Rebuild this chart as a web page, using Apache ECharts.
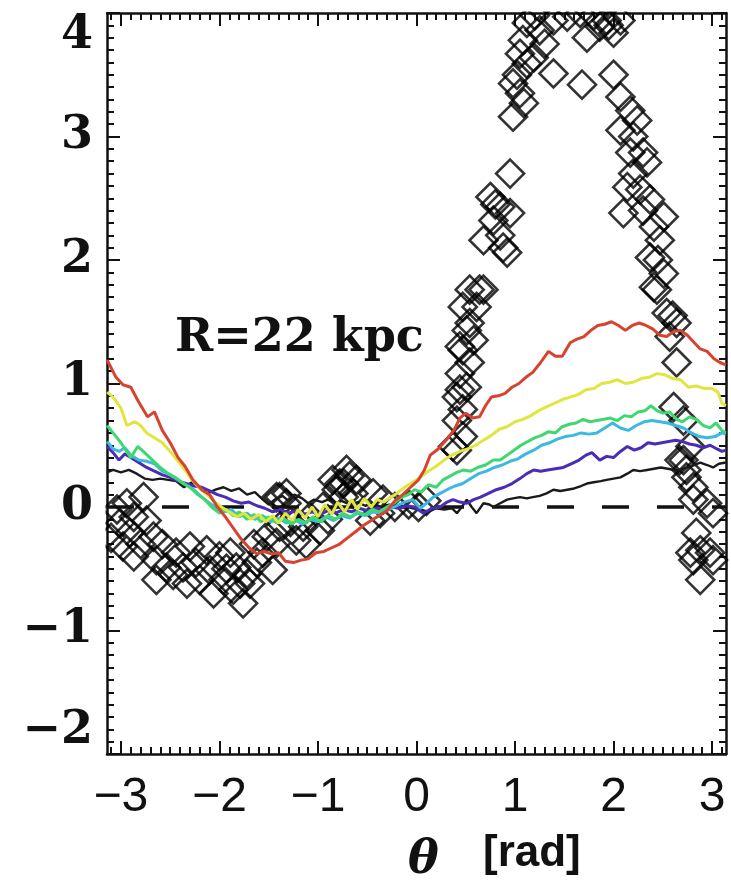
<!DOCTYPE html>
<html>
<head>
<meta charset="utf-8">
<script src="https://cdn.jsdelivr.net/npm/echarts@6/dist/echarts.min.js"></script>
<style>
html,body{margin:0;padding:0;background:#fff;}
#chart{width:731px;height:893px;}
</style>
</head>
<body>
<div id="chart"></div>
<script>
// ---------- data ----------
const xTickLabels = [-3, -2, -1, 0, 1, 2, 3];
const yTickLabels = [-2, -1, 0, 1, 2, 3, 4];
const panelLabel = 'R=22 kpc';
const xTitle = 'θ';
const xUnit = '[rad]';

const diamonds = [
  [-3.04,-0.02],[-2.94,0.03],[-3.01,-0.13],[-2.87,-0.08],[-2.77,0.08],[-2.74,-0.11],[-2.98,-0.32],[-2.87,-0.4],
  [-2.91,-0.21],[-2.67,-0.24],[-2.64,-0.43],[-2.54,-0.49],[-2.64,-0.59],[-2.44,-0.37],[-2.37,-0.49],[-2.3,-0.32],
  [-2.24,-0.45],[-2.2,-0.59],[-2.13,-0.35],[-2.1,-0.51],[-2.0,-0.4],[-1.96,-0.59],[-1.89,-0.37],[-1.86,-0.67],
  [-1.76,-0.78],[-1.72,-0.54],[-1.83,-0.49],[-1.69,-0.62],[-1.62,-0.45],[-1.56,-0.37],[-1.46,-0.51],[-1.52,-0.24],
  [-1.42,-0.29],[-1.39,-0.16],[-1.42,0.08],[-1.32,0.03],[-1.22,-0.27],[-1.15,-0.16],[-1.08,-0.08],[-0.98,-0.19],
  [-0.95,0.0],[-0.81,0.14],[-0.74,0.19],[-0.64,0.11],[-0.47,-0.11],[-0.37,-0.05],[-0.85,0.22],[-0.71,0.3],
  [-0.78,0.19],[-0.61,0.22],[-0.74,0.08],[-1.39,0.08],[-1.32,0.11],[-0.44,0.11],[-0.34,0.06],
  [-3.1,-0.25],[-2.8,-0.3],[-2.58,-0.3],[-2.47,-0.55],[-2.33,-0.62],[-2.06,-0.7],[-1.93,-0.5],[-1.79,-0.62],
  [-1.65,-0.3],[-1.28,-0.12],[-1.12,-0.3],[-0.9,-0.1],[-0.68,0.25],[-0.22,0.0],[-0.08,0.02],[0.02,0.0],[0.1,0.05],
  [0.37,0.49],[0.41,0.46],[0.47,0.57],[0.41,0.7],[0.47,0.79],[0.41,0.89],[0.44,0.95],[0.51,0.97],[0.44,1.08],
  [0.54,1.17],[0.47,1.27],[0.44,1.3],[0.58,1.35],[0.51,1.43],[0.54,1.49],[0.61,1.62],[0.47,1.62],[0.68,1.76],[0.54,1.76],
  [0.64,1.76],[0.75,2.51],[0.85,2.43],[0.95,2.38],[0.78,2.32],[0.68,2.16],[0.88,2.1],[0.92,2.06],[0.95,2.7],
  [0.98,3.16],[1.09,3.27],[1.05,3.35],[0.98,3.43],[1.05,3.67],[1.12,3.59],[1.19,3.64],[1.12,3.92],[1.25,3.86],
  [1.39,3.94],[1.53,3.97],[1.66,4.0],[1.73,3.8],[1.86,3.89],[1.93,3.94],[2.0,3.84],[2.07,3.94],[1.39,3.51],
  [1.68,3.42],[2.0,3.5],[1.02,3.5],[1.08,3.78],[1.2,3.98],[1.3,3.75],[1.8,3.98],[1.95,3.9],[0.85,2.2],[0.8,2.45],
  [2.07,3.32],[2.17,3.21],[2.24,3.13],[2.07,3.05],[2.2,3.0],[2.3,2.87],[2.17,2.87],[2.34,2.79],[2.14,2.59],
  [2.27,2.57],[2.1,2.38],[2.37,2.49],[2.51,2.35],[2.41,2.27],[2.47,2.16],[2.37,2.02],[2.51,1.89],[2.41,1.78],
  [2.44,1.76],[2.54,1.57],[2.64,1.49],[2.57,1.38],[2.64,1.17],[2.61,0.81],[2.71,0.7],[2.78,0.49],[2.71,0.38],
  [2.74,0.3],[2.81,0.16],[2.67,0.38],[2.74,0.24],[2.81,0.06],[2.95,0.03],[3.01,-0.05],[2.84,-0.21],[2.88,-0.35],
  [2.98,-0.37],[2.81,-0.43],[3.01,-0.43],[2.88,-0.59],[2.78,-0.37],[2.2,2.7],[2.3,2.4],[2.45,2.0],[2.6,1.55]
];

const redLine = [[-3.14,1.19],[-3.05,1.05],[-2.98,0.99],[-2.9,0.97],[-2.82,0.85],[-2.73,0.73],[-2.66,0.77],[-2.58,0.62],
  [-2.5,0.52],[-2.42,0.4],[-2.35,0.33],[-2.27,0.22],[-2.18,0.14],[-2.1,0.1],[-2.02,0.0],[-1.94,-0.08],[-1.86,-0.17],
  [-1.78,-0.26],[-1.7,-0.33],[-1.62,-0.38],[-1.55,-0.36],[-1.47,-0.38],[-1.4,-0.37],[-1.33,-0.44],[-1.25,-0.45],
  [-1.17,-0.43],[-1.1,-0.42],[-1.02,-0.37],[-0.94,-0.36],[-0.86,-0.33],[-0.78,-0.3],[-0.7,-0.25],[-0.62,-0.2],
  [-0.54,-0.15],[-0.46,-0.11],[-0.38,-0.07],[-0.3,-0.03],[-0.22,0.05],[-0.14,0.1],[-0.06,0.16],[0.02,0.22],[0.08,0.3],
  [0.14,0.42],[0.22,0.47],[0.3,0.54],[0.38,0.62],[0.44,0.72],[0.5,0.76],[0.57,0.72],[0.64,0.73],[0.7,0.82],[0.76,0.89],
  [0.83,0.9],[0.9,0.92],[0.97,0.97],[1.04,1.0],[1.11,1.05],[1.18,1.09],[1.26,1.17],[1.34,1.26],[1.41,1.22],[1.48,1.22],
  [1.56,1.33],[1.63,1.36],[1.7,1.38],[1.77,1.43],[1.84,1.47],[1.91,1.48],[1.98,1.5],[2.05,1.47],[2.12,1.43],[2.19,1.47],
  [2.26,1.49],[2.33,1.47],[2.4,1.44],[2.47,1.39],[2.54,1.38],[2.61,1.42],[2.68,1.43],[2.75,1.39],[2.82,1.33],[2.88,1.28],
  [2.95,1.26],[3.02,1.2],[3.08,1.17],[3.14,1.15]];

const yellowLine = [[-3.14,0.93],[-3.08,0.89],[-3.0,0.8],[-2.94,0.66],[-2.86,0.69],[-2.8,0.66],[-2.74,0.6],[-2.66,0.56],
  [-2.58,0.52],[-2.5,0.45],[-2.43,0.38],[-2.35,0.3],[-2.28,0.22],[-2.2,0.15],[-2.14,0.11],[-2.06,0.05],[-1.98,0.0],
  [-1.9,-0.04],[-1.82,-0.08],[-1.75,-0.05],[-1.68,-0.1],[-1.6,-0.06],[-1.53,-0.12],[-1.46,-0.07],[-1.4,-0.13],
  [-1.33,-0.05],[-1.26,-0.11],[-1.2,-0.02],[-1.13,-0.09],[-1.06,0.0],[-1.0,-0.08],[-0.93,0.02],[-0.86,-0.06],
  [-0.8,0.04],[-0.73,-0.04],[-0.66,0.06],[-0.6,-0.02],[-0.53,0.07],[-0.46,0.0],[-0.4,0.06],[-0.33,0.04],[-0.26,0.08],
  [-0.2,0.11],[-0.12,0.16],[-0.04,0.2],[0.04,0.24],[0.12,0.29],[0.2,0.33],[0.28,0.38],[0.36,0.42],[0.44,0.45],
  [0.52,0.47],[0.6,0.5],[0.68,0.54],[0.76,0.58],[0.84,0.63],[0.92,0.65],[1.0,0.69],[1.08,0.71],[1.16,0.74],[1.24,0.78],
  [1.32,0.81],[1.4,0.84],[1.48,0.87],[1.56,0.89],[1.64,0.91],[1.72,0.95],[1.8,0.96],[1.88,1.0],[1.96,1.01],[2.04,1.03],
  [2.12,1.0],[2.2,1.01],[2.28,1.04],[2.36,1.05],[2.44,1.08],[2.52,1.07],[2.6,1.04],[2.68,1.03],[2.76,0.97],[2.84,0.98],
  [2.92,0.96],[3.0,0.96],[3.06,0.93],[3.1,0.84],[3.14,0.82]];

const greenLine = [[-3.14,0.66],[-3.08,0.6],[-3.0,0.52],[-2.9,0.4],[-2.83,0.49],[-2.76,0.44],[-2.68,0.38],[-2.6,0.32],
  [-2.52,0.27],[-2.45,0.24],[-2.37,0.19],[-2.3,0.16],[-2.22,0.1],[-2.15,0.06],[-2.08,0.0],[-2.0,-0.05],[-1.93,-0.02],
  [-1.86,-0.07],[-1.8,-0.04],[-1.72,-0.1],[-1.65,-0.06],[-1.58,-0.12],[-1.5,-0.08],[-1.42,-0.13],[-1.35,-0.09],
  [-1.27,-0.14],[-1.2,-0.1],[-1.12,-0.13],[-1.05,-0.08],[-0.97,-0.12],[-0.9,-0.07],[-0.82,-0.1],[-0.75,-0.05],
  [-0.67,-0.08],[-0.6,-0.04],[-0.52,-0.06],[-0.45,-0.02],[-0.38,-0.04],[-0.3,0.0],[-0.23,0.03],[-0.15,0.08],
  [-0.08,0.1],[-0.02,0.14],[0.05,0.12],[0.12,0.18],[0.2,0.16],[0.27,0.22],[0.34,0.25],[0.41,0.28],[0.48,0.3],
  [0.55,0.29],[0.62,0.32],[0.7,0.34],[0.78,0.38],[0.85,0.38],[0.92,0.42],[0.99,0.46],[1.06,0.5],[1.13,0.53],[1.2,0.56],
  [1.27,0.58],[1.34,0.61],[1.41,0.6],[1.48,0.65],[1.55,0.67],[1.62,0.68],[1.69,0.71],[1.76,0.69],[1.83,0.7],[1.9,0.71],
  [1.97,0.72],[2.04,0.7],[2.11,0.74],[2.18,0.73],[2.25,0.77],[2.32,0.78],[2.38,0.82],[2.44,0.78],[2.5,0.76],[2.57,0.77],
  [2.64,0.71],[2.7,0.69],[2.77,0.73],[2.84,0.71],[2.91,0.66],[2.98,0.64],[3.04,0.68],[3.1,0.62],[3.14,0.6]];

const cyanLine = [[-3.14,0.53],[-3.08,0.47],[-3.02,0.45],[-2.96,0.48],[-2.9,0.42],[-2.82,0.38],[-2.74,0.37],[-2.66,0.35],
  [-2.58,0.29],[-2.5,0.26],[-2.42,0.22],[-2.34,0.18],[-2.26,0.14],[-2.18,0.08],[-2.1,0.03],[-2.02,-0.01],[-1.95,-0.04],
  [-1.88,-0.02],[-1.8,-0.08],[-1.72,-0.05],[-1.64,-0.1],[-1.56,-0.07],[-1.48,-0.12],[-1.4,-0.09],[-1.32,-0.13],
  [-1.24,-0.1],[-1.16,-0.14],[-1.08,-0.1],[-1.0,-0.12],[-0.92,-0.08],[-0.84,-0.11],[-0.76,-0.07],[-0.68,-0.09],
  [-0.6,-0.05],[-0.52,-0.07],[-0.44,-0.04],[-0.36,-0.05],[-0.28,-0.02],[-0.2,0.01],[-0.12,0.04],[-0.04,0.06],
  [0.04,-0.01],[0.1,0.03],[0.17,0.08],[0.24,0.11],[0.31,0.14],[0.39,0.17],[0.47,0.19],[0.55,0.23],[0.63,0.27],
  [0.71,0.29],[0.79,0.32],[0.87,0.34],[0.95,0.37],[1.03,0.39],[1.11,0.43],[1.19,0.46],[1.27,0.5],[1.35,0.52],
  [1.43,0.55],[1.51,0.57],[1.59,0.58],[1.67,0.6],[1.75,0.59],[1.83,0.6],[1.91,0.64],[1.99,0.68],[2.07,0.64],
  [2.15,0.62],[2.23,0.66],[2.31,0.69],[2.39,0.7],[2.47,0.69],[2.55,0.68],[2.63,0.66],[2.71,0.64],[2.79,0.6],
  [2.87,0.57],[2.95,0.56],[3.03,0.57],[3.1,0.6],[3.14,0.59]];

const purpleLine = [[-3.14,0.49],[-3.08,0.44],[-3.02,0.38],[-2.96,0.43],[-2.9,0.4],[-2.82,0.36],[-2.74,0.32],[-2.66,0.29],
  [-2.58,0.26],[-2.5,0.24],[-2.42,0.21],[-2.34,0.19],[-2.26,0.17],[-2.18,0.16],[-2.1,0.13],[-2.02,0.1],[-1.94,0.08],
  [-1.86,0.05],[-1.78,0.03],[-1.7,0.04],[-1.62,0.01],[-1.54,-0.01],[-1.46,-0.04],[-1.38,-0.02],[-1.3,-0.05],
  [-1.22,-0.03],[-1.14,-0.06],[-1.06,-0.04],[-0.98,-0.06],[-0.9,-0.03],[-0.82,-0.05],[-0.74,-0.02],[-0.66,-0.04],
  [-0.58,-0.01],[-0.5,-0.03],[-0.42,-0.01],[-0.34,-0.02],[-0.26,0.0],[-0.18,-0.01],[-0.1,0.01],[-0.02,0.0],
  [0.07,-0.05],[0.16,-0.01],[0.24,0.0],[0.31,0.04],[0.37,0.06],[0.44,0.04],[0.51,0.03],[0.58,0.06],[0.65,0.08],
  [0.73,0.11],[0.81,0.14],[0.89,0.16],[0.97,0.19],[1.05,0.23],[1.12,0.27],[1.19,0.3],[1.26,0.29],[1.33,0.3],
  [1.41,0.31],[1.49,0.32],[1.57,0.35],[1.65,0.38],[1.72,0.42],[1.78,0.44],[1.86,0.38],[1.93,0.41],[2.0,0.4],
  [2.07,0.45],[2.14,0.49],[2.21,0.46],[2.28,0.48],[2.35,0.52],[2.42,0.51],[2.49,0.52],[2.56,0.53],[2.63,0.54],
  [2.7,0.53],[2.77,0.51],[2.84,0.5],[2.91,0.48],[2.98,0.5],[3.05,0.47],[3.1,0.45],[3.14,0.46]];

const blackLine = [[-3.14,0.28],[-3.08,0.3],[-3.0,0.28],[-2.92,0.3],[-2.84,0.27],[-2.76,0.23],[-2.68,0.22],[-2.6,0.23],
  [-2.52,0.22],[-2.44,0.21],[-2.36,0.16],[-2.28,0.2],[-2.2,0.16],[-2.12,0.11],[-2.04,0.14],[-1.96,0.16],[-1.88,0.13],
  [-1.8,0.15],[-1.72,0.1],[-1.64,0.12],[-1.56,0.06],[-1.5,0.02],[-1.44,0.06],[-1.36,0.09],[-1.3,0.05],[-1.24,0.1],
  [-1.16,0.07],[-1.1,0.03],[-1.04,0.06],[-0.96,0.04],[-0.9,0.06],[-0.82,0.03],[-0.76,0.05],[-0.68,0.02],[-0.6,0.04],
  [-0.52,0.01],[-0.44,0.03],[-0.36,0.0],[-0.28,0.02],[-0.2,0.0],[-0.12,0.01],[-0.04,-0.01],[0.04,-0.02],[0.12,-0.04],
  [0.2,-0.01],[0.28,-0.02],[0.36,-0.01],[0.41,-0.05],[0.46,0.0],[0.51,0.06],[0.56,0.0],[0.61,-0.05],[0.68,0.03],
  [0.74,0.02],[0.78,0.0],[0.85,0.03],[0.92,0.06],[0.98,0.07],[1.05,0.08],[1.12,0.07],[1.18,0.08],[1.25,0.09],
  [1.32,0.11],[1.39,0.14],[1.46,0.13],[1.53,0.14],[1.6,0.15],[1.67,0.17],[1.73,0.19],[1.8,0.2],[1.87,0.21],[1.93,0.22],
  [2.0,0.23],[2.07,0.24],[2.14,0.27],[2.2,0.3],[2.27,0.29],[2.34,0.3],[2.41,0.31],[2.48,0.32],[2.55,0.31],[2.62,0.3],
  [2.68,0.3],[2.75,0.32],[2.82,0.34],[2.88,0.36],[2.95,0.34],[3.01,0.32],[3.07,0.35],[3.14,0.36]];

const zeroLevel = 0;

// ---------- chart ----------
const X0 = -Math.PI, X1 = Math.PI;
const xMinor = [];
for (let i = -31; i <= 31; i++) xMinor.push(i / 10);
const minus = v => (v < 0 ? '\u2212' + Math.abs(v) : String(v));
const ink = '#111';

const chart = echarts.init(document.getElementById('chart'), null, {renderer: 'canvas'});

function xAx(pos, values, len, labels, showLine) {
  return {
    type: 'value', position: pos, min: X0, max: X1,
    axisLine: {show: showLine, onZero: false, lineStyle: {color: ink, width: 2.5}},
    axisTick: {show: true, inside: true, length: len, customValues: values, lineStyle: {color: ink, width: 2}},
    axisLabel: labels ? {
      show: true, customValues: xTickLabels, formatter: minus, margin: 20,
      fontFamily: 'Liberation Sans', fontSize: 48, color: ink
    } : {show: false},
    splitLine: {show: false}
  };
}
function yAx(pos, labels) {
  return {
    type: 'value', position: pos, min: -2, max: 4, interval: 1,
    axisLine: {show: true, onZero: false, lineStyle: {color: ink, width: 2.5}},
    axisTick: {show: true, inside: true, length: 13, lineStyle: {color: ink, width: 2}},
    minorTick: {show: true, splitNumber: 10, length: 7, lineStyle: {color: ink, width: 2}},
    axisLabel: labels ? {
      show: true, formatter: minus, margin: 14,
      fontFamily: 'DejaVu Serif', fontWeight: 'bold', fontSize: 46, color: ink,
      verticalAlignMaxLabel: 'top', verticalAlignMinLabel: 'bottom'
    } : {show: false},
    splitLine: {show: false}, minorSplitLine: {show: false}
  };
}

const lineSeries = (data, color, w) => ({
  type: 'line', data: data, showSymbol: false, symbol: 'none',
  lineStyle: {color: color, width: w}, z: 4, animation: false, clip: true
});

chart.setOption({
  animation: false,
  backgroundColor: '#fff',
  grid: {left: 107, right: 5, top: 13, bottom: 139, containLabel: false, outerBoundsMode: 'none'},
  xAxis: [
    xAx('bottom', xTickLabels, 13, true, true),
    xAx('bottom', xMinor, 7, false, false),
    xAx('top', xTickLabels, 13, false, true),
    xAx('top', xMinor, 7, false, false)
  ],
  yAxis: [yAx('left', true), yAx('right', false)],
  series: [
    {
      type: 'scatter', data: diamonds, symbol: 'diamond', symbolSize: 28, z: 2,
      itemStyle: {color: 'rgba(0,0,0,0)', borderColor: '#000', borderWidth: 2.6}
    },
    {
      type: 'line', data: [[X0, zeroLevel], [X1, zeroLevel]], showSymbol: false, symbol: 'none', z: 3,
      lineStyle: {color: ink, width: 3.5, type: [27, 28]}
    },
    lineSeries(blackLine, '#1a1a1a', 2.4),
    lineSeries(purpleLine, '#4a2cb5', 3),
    lineSeries(cyanLine, '#3cb9e2', 3),
    lineSeries(greenLine, '#3fd870', 3),
    lineSeries(yellowLine, '#e0e63e', 3),
    lineSeries(redLine, '#d7432f', 3)
  ],
  graphic: [
    {type: 'rect', z: 50, shape: {x: 0, y: 0, width: 731, height: 11.5}, style: {fill: '#fff'}},
    {type: 'rect', z: 50, shape: {x: 94, y: 13, width: 11.5, height: 741}, style: {fill: '#fff'}},
    {type: 'text', z: 60, left: 175, top: 316,
      style: {text: panelLabel, font: 'bold 46px "DejaVu Serif"', fill: ink}},
    {type: 'text', z: 60, left: 408, top: 838,
      style: {text: xTitle, font: 'italic bold 46px "DejaVu Serif"', fill: ink}},
    {type: 'text', z: 60, left: 483, top: 832,
      style: {text: xUnit, font: 'bold 44px "Liberation Sans Narrow", "Liberation Sans"', fill: ink}}
  ]
});
</script>
</body>
</html>
